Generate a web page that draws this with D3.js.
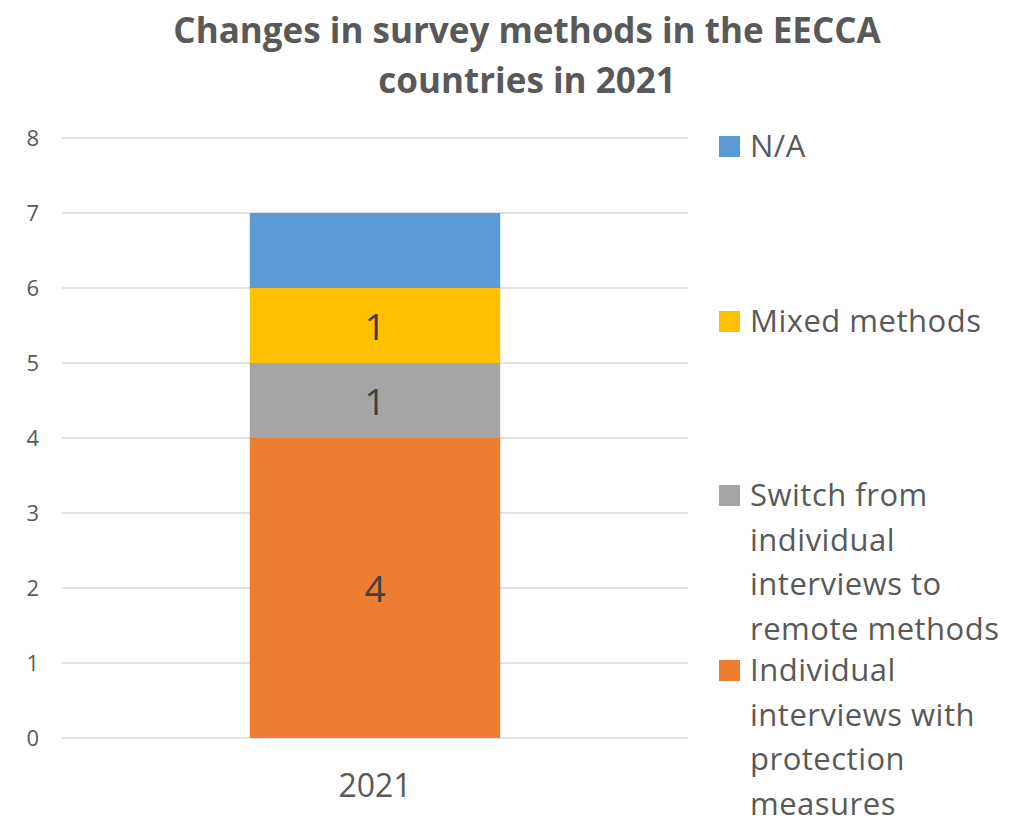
<!DOCTYPE html>
<html>
<head>
<meta charset="utf-8">
<script src="https://cdn.jsdelivr.net/npm/d3@7"></script>
<style>
  body { margin: 0; background: #fff; }
  text { font-family: "Open Sans", Lato, sans-serif; fill: #595959; }
</style>
</head>
<body>
<script>
var svgWidth = 1022;
var svgHeight = 822;

// data
var categories = ["2021"];
var seriesNames = [
    "Individual interviews with protection measures",
    "Switch from individual interviews to remote methods",
    "Mixed methods",
    "N/A"
];
var seriesValues = [[4], [1], [1], [1]];
var showLabel = [true, true, true, false];
var seriesColors = ["#ED7D31", "#A5A5A5", "#FFC000", "#5B9BD5"];
var yTicks = [0, 1, 2, 3, 4, 5, 6, 7, 8];
var titleLines = ["Changes in survey methods in the EECCA", "countries in 2021"];

var svg = d3.select("body")
    .append("svg")
    .attr("width", svgWidth)
    .attr("height", svgHeight);

// title
svg.append("g").selectAll("text")
    .data(titleLines)
    .enter()
    .append("text")
    .attr("x", 527)
    .attr("y", (d, i) => 43 + i * 50)
    .attr("text-anchor", "middle")
    .style("font-size", "35px")
    .style("font-weight", "bold")
    .text(d => d);

// scales
var xScale = d3.scaleBand()
    .domain(categories)
    .range([62, 688])
    .paddingInner(0.6)
    .paddingOuter(0.3);

var yScale = d3.scaleLinear()
    .domain([0, 8])
    .range([738, 138]);

// gridlines
svg.append("g").selectAll("line")
    .data(yTicks)
    .enter()
    .append("line")
    .attr("x1", 62)
    .attr("x2", 688)
    .attr("y1", d => yScale(d))
    .attr("y2", d => yScale(d))
    .attr("stroke", "#d9d9d9")
    .attr("stroke-width", 1.5);

// y axis labels
var leftAxis = d3.axisLeft(yScale).tickValues(yTicks).tickSize(0).tickPadding(0);
var yAxis = svg.append("g")
    .attr("transform", "translate(39,0)")
    .call(leftAxis);
yAxis.select(".domain").remove();
yAxis.selectAll("text")
    .style("font-size", "22px")
    .attr("fill", "#595959");

// x axis labels
var bottomAxis = d3.axisBottom(xScale).tickSize(0).tickPadding(0);
var xAxis = svg.append("g")
    .attr("transform", "translate(0,774)")
    .call(bottomAxis);
xAxis.select(".domain").remove();
xAxis.selectAll("text")
    .style("font-size", "32px")
    .attr("fill", "#595959");

// stacked bars
var stackData = categories.map(function(c, ci) {
    var row = { cat: c };
    seriesNames.forEach(function(s, si) { row[s] = seriesValues[si][ci]; });
    return row;
});
var stacked = d3.stack().keys(seriesNames)(stackData);

var layers = svg.append("g").selectAll("g")
    .data(stacked)
    .enter()
    .append("g")
    .attr("fill", (d, i) => seriesColors[i]);

layers.selectAll("rect")
    .data(d => d)
    .enter()
    .append("rect")
    .attr("x", d => xScale(d.data.cat))
    .attr("width", xScale.bandwidth())
    .attr("y", d => yScale(d[1]))
    .attr("height", d => yScale(d[0]) - yScale(d[1]));

// data labels
layers.each(function(layer, i) {
    if (!showLabel[i]) return;
    d3.select(this).selectAll("text")
        .data(layer)
        .enter()
        .append("text")
        .attr("x", d => xScale(d.data.cat) + xScale.bandwidth() / 2)
        .attr("y", d => (yScale(d[0]) + yScale(d[1])) / 2 + 14)
        .attr("text-anchor", "middle")
        .style("font-size", "37px")
        .style("fill", "#404040")
        .text(d => d[1] - d[0]);
});

// legend (top to bottom in reverse stack order)
var legendItems = [
    { i: 3, y: 136, lines: ["N/A"] },
    { i: 2, y: 311, lines: ["Mixed methods"] },
    { i: 1, y: 485, lines: ["Switch from", "individual", "interviews to", "remote methods"] },
    { i: 0, y: 660, lines: ["Individual", "interviews with", "protection", "measures"] }
];

var legend = svg.append("g").selectAll("g")
    .data(legendItems)
    .enter()
    .append("g")
    .attr("transform", d => `translate(719, ${d.y})`);

legend.append("rect")
    .attr("width", 21)
    .attr("height", 21)
    .attr("fill", d => seriesColors[d.i]);

legend.append("text")
    .style("font-size", "31px")
    .style("letter-spacing", "0.5px")
    .selectAll("tspan")
    .data(d => d.lines)
    .enter()
    .append("tspan")
    .attr("x", 31)
    .attr("y", (d, k) => 21 + k * 44.5)
    .text(d => d);
</script>
</body>
</html>
